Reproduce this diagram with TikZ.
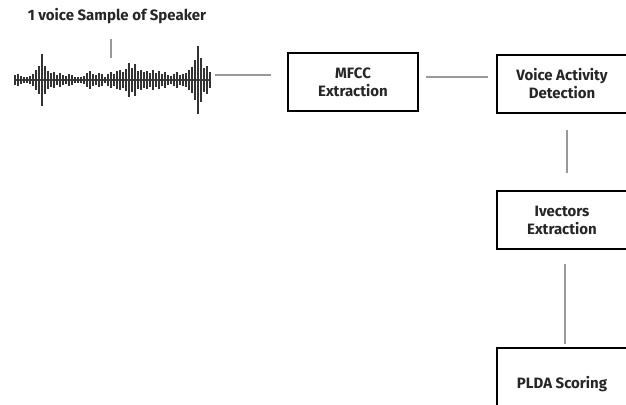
\documentclass[tikz,border=0pt]{standalone}
\usepackage{fontspec}
\setmainfont{Fira Sans}
\usetikzlibrary{positioning}

\tikzset{
  stage/.style={draw=black, line width=2.2pt, fill=white, minimum width=130pt, minimum height=58pt,
    align=center, font=\fontsize{15}{18}\selectfont\bfseries, text=black!85},
  link/.style={draw=gray!80, line width=2pt}
}

\begin{document}
\begin{tikzpicture}[x=1pt, y=-1pt]

        \useasboundingbox (0,0) rectangle (626,404);
        \clip (0,0) rectangle (626,404);

        % --- VOICE SAMPLE ---
        \node[font=\fontsize{15}{18}\selectfont\bfseries, text=black!85] (title) at (117, 16) {1 voice Sample of Speaker};
        \coordinate (wavetop) at (111, 58);
        \coordinate (waveend) at (215, 75);
        \draw[black!75, line width=2pt] (15, 80) -- (210, 80);
        \foreach \x/\h in {15/5, 18/6, 21/4, 24/3, 27/3, 30/4, 33/6, 36/10, 39/14, 42/26, 45/14, 48/9,
                           51/7, 54/8, 57/5, 60/7, 63/5, 66/4, 69/6, 72/5, 75/3, 78/3, 81/3, 84/4,
                           87/7, 90/9, 93/6, 96/5, 99/7, 102/6, 105/3, 108/6, 111/8, 114/6, 117/9,
                           120/10, 123/8, 126/11, 129/17, 132/12, 135/16, 138/9, 141/10, 144/8,
                           147/9, 150/7, 153/10, 156/7, 159/9, 162/6, 165/8, 168/5, 171/4, 174/6,
                           177/8, 180/5, 183/6, 186/7, 189/10, 192/13, 195/20, 198/34, 201/22,
                           204/12, 207/14, 210/8} {
            \draw[black!80, line width=2.2pt] (\x, 80-\h) -- (\x, 80+\h);
        }
        \draw[link] ([yshift=-12]title.south -| wavetop) -- (wavetop);

        % --- PIPELINE ---
        \node[stage] (mfcc) at (353, 82) {MFCC\\Extraction};
        \node[stage] (vad) at (562, 84) {Voice Activity\\Detection};
        \node[stage] (ivec) at (562, 220) {Ivectors\\Extraction};
        \node[stage, minimum height=72pt] (plda) at (562, 384) {PLDA Scoring};

        \coordinate (mfccin) at ([xshift=-16]mfcc.west);
        \coordinate (vadin) at ([xshift=-8]vad.west);
        \draw[link] (waveend) -- (waveend -| mfccin);
        \draw[link] ([xshift=7, yshift=5]mfcc.east) -- ([yshift=5]mfcc.east -| vadin);
        \draw[link] ([xshift=5, yshift=-16]vad.south) -- ([xshift=5, yshift=17]ivec.north);
        \draw[link] ([xshift=3, yshift=-14]ivec.south) -- ([xshift=3, yshift=3]plda.north);

\end{tikzpicture}
\end{document}
